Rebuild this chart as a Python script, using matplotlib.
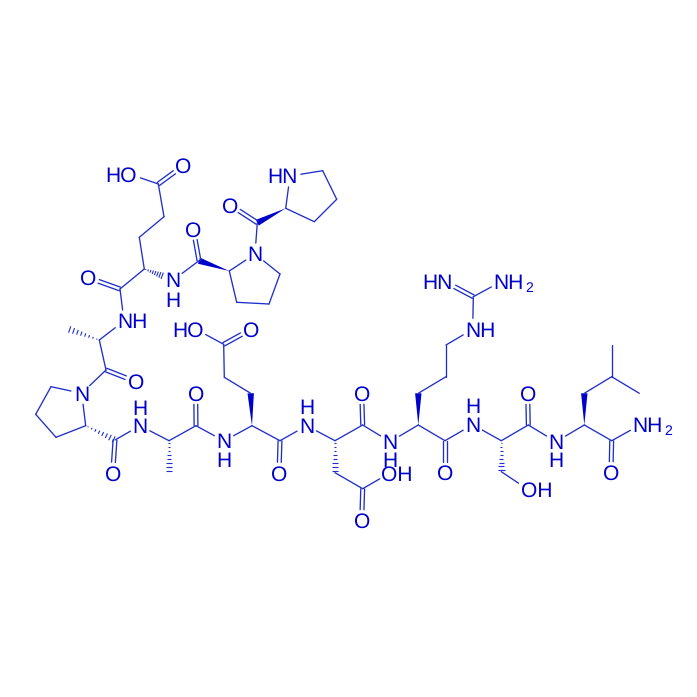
import matplotlib
matplotlib.use("Agg")
import matplotlib.pyplot as plt
from matplotlib.patches import Polygon
import numpy as np

plt.rcParams['font.family'] = ['Liberation Sans', 'DejaVu Sans']
plt.rcParams['text.hinting'] = 'none'
plt.rcParams['text.hinting_factor'] = 1

COL_TEXT = '#0000CD'
COL_LINE = '#1F2FCB'

atom_ids = ['O1h', 'C1', 'O1', 'C2', 'C3', 'C4', 'C5', 'O5',
            'N6', 'C7', 'M7', 'C8', 'O8',
            'N9', 'C10', 'C11', 'C12', 'C13', 'C14', 'O14',
            'N15', 'C16', 'M16', 'C17', 'O17',
            'N18', 'C19', 'C20', 'C21', 'C22', 'O22', 'O22h', 'C23', 'O23',
            'N24', 'C25', 'C26', 'C27', 'O27', 'O27h', 'C28', 'O28',
            'N29', 'C30', 'C31', 'C32', 'C33', 'N33', 'C34', 'N35', 'N36', 'C37', 'O37',
            'N38', 'C39', 'C40', 'O40h', 'C41', 'O41',
            'N42', 'C43', 'C44', 'C45', 'M45a', 'M45b', 'C46', 'O46', 'N47',
            'C48', 'O48', 'N49', 'C50', 'N52', 'C53', 'C54', 'C55', 'C56', 'O56',
            'C57', 'N58', 'C59', 'C60', 'C61']
atom_x = [130, 158.3, 183.3, 164, 139.3, 144.3, 120, 88.3,
          124, 99.3, 68.3, 106, 136,
          81.7, 51, 35.7, 56, 85.7, 115, 112.7,
          140, 169, 169, 196, 195.7,
          224, 252, 250.7, 224.3, 223.7, 251, 196, 280, 279,
          306.7, 335, 335, 362.7, 361.7, 389.3, 362.7, 361.7,
          390, 418.3, 418.3, 446, 446, 472.7, 473.3, 445, 501, 445, 445,
          472.7, 501.3, 501.3, 527.7, 528.3, 527.7,
          556, 584.3, 584.3, 611.7, 611.7, 639.3, 611.7, 611, 640,
          199, 193.3, 173.3, 229.3, 255, 280, 269, 236.7, 257.3, 230,
          285.7, 290, 322.7, 336.7, 314.3]
atom_y = [174.3, 184, 165.7, 216.7, 237.3, 269, 289, 277.7,
          321, 340, 329, 370, 381.7,
          393.3, 386.7, 414.3, 437.3, 425.7, 440, 473.3,
          425.7, 440.7, 472.7, 425.7, 393.3,
          441, 425.7, 393.3, 377.3, 344.3, 329.3, 329.3, 440.7, 473.3,
          425.7, 440.7, 472.7, 488.7, 520.7, 473.3, 425, 393.3,
          441.7, 425, 393.3, 376.7, 345, 329.3, 296.7, 281.7, 281.7, 440.7, 472.7,
          424.7, 440.7, 471.7, 489.3, 425, 393.3,
          441.7, 425, 393.3, 376.7, 345, 393.3, 440.7, 472.7, 425,
          260.7, 229, 280, 271, 254, 274, 304, 302.3, 222.7, 205,
          208.3, 176, 170.7, 199.3, 221.7]

single_bonds = [('O1h', 'C1'), ('C1', 'C2'), ('C2', 'C3'), ('C3', 'C4'), ('C4', 'C5'), ('C5', 'N6'),
                ('N6', 'C7'), ('C7', 'C8'), ('C8', 'N9'), ('N9', 'C10'), ('C10', 'C11'), ('C11', 'C12'),
                ('C12', 'C13'), ('C13', 'N9'), ('C14', 'N15'), ('N15', 'C16'), ('C16', 'C17'), ('C17', 'N18'),
                ('N18', 'C19'), ('C19', 'C23'), ('C20', 'C21'), ('C21', 'C22'), ('C22', 'O22h'), ('C23', 'N24'),
                ('N24', 'C25'), ('C25', 'C28'), ('C26', 'C27'), ('C27', 'O27h'), ('C28', 'N29'), ('N29', 'C30'),
                ('C30', 'C37'), ('C31', 'C32'), ('C32', 'C33'), ('C33', 'N33'), ('N33', 'C34'), ('C34', 'N36'),
                ('C37', 'N38'), ('N38', 'C39'), ('C39', 'C41'), ('C40', 'O40h'), ('C41', 'N42'), ('N42', 'C43'),
                ('C43', 'C46'), ('C44', 'C45'), ('C45', 'M45a'), ('C45', 'M45b'), ('C46', 'N47'), ('N49', 'C48'),
                ('C50', 'N52'), ('N52', 'C53'), ('C53', 'C54'), ('C54', 'C55'), ('C55', 'C50'), ('C56', 'N52'),
                ('N58', 'C59'), ('C59', 'C60'), ('C60', 'C61'), ('C61', 'C57'), ('C57', 'N58')]
double_bonds = [('C1', 'O1'), ('C5', 'O5'), ('C8', 'O8'), ('C14', 'O14'), ('C17', 'O17'), ('C22', 'O22'),
                ('C23', 'O23'), ('C27', 'O27'), ('C28', 'O28'), ('C34', 'N35'), ('C37', 'O37'), ('C41', 'O41'),
                ('C46', 'O46'), ('C48', 'O48'), ('C56', 'O56')]
# narrow end first, wide end last
wedge_bonds = [('C19', 'C20'), ('C30', 'C31'), ('C43', 'C44'), ('C50', 'C48'), ('C57', 'C56')]
hash_bonds = [('C4', 'N49'), ('C7', 'M7'), ('C13', 'C14'), ('C16', 'M16'), ('C25', 'C26'), ('C39', 'C40')]

label_str = ['HO', 'O', 'O', 'NH', 'O', 'N', 'O', 'N', 'H', 'O', 'N', 'H', 'HO', 'O', 'O', 'N', 'H',
             'O', 'OH', 'O', 'N', 'H', 'NH', 'HN', 'NH', 'O', 'N', 'H', 'OH', 'O', 'N', 'H', 'O', 'NH',
             'O', 'N', 'H', 'N', 'O', 'HN']
label_x = [120.7, 183.3, 88.3, 132, 136, 81.7, 112.7, 140, 140, 195.7, 224, 224, 188.3, 251, 279, 306.7, 306.7,
           361.7, 396.7, 361.7, 390, 390, 480.5, 437, 508.7, 445, 472.7, 472.7, 536.7, 527.7, 556, 556, 611, 647,
           193.3, 173.3, 173.3, 255, 230, 282.3]
label_y = [174.3, 165.7, 277.7, 321, 381.7, 393.3, 473.3, 425.7, 407.3, 393.3, 441, 460, 329.3, 329.3, 473.3, 425.7, 406.7,
           520.7, 473.3, 393.3, 441.7, 460, 329.3, 281.7, 281.7, 472.7, 424.7, 405.7, 489.3, 393.3, 441.7, 460, 472.7, 425,
           229, 280, 299.3, 254, 205, 176]
sub_str = ['2', '2']
sub_x = [529, 668]
sub_y = [288, 431.7]

FS = 15
GAP = 11
pos = {a: np.array([x, y]) for a, x, y in zip(atom_ids, atom_x, atom_y)}
hetero = {a for a in atom_ids if a[0] in 'NO'}

fig = plt.figure(figsize=(6.97, 6.97), dpi=100)
ax = fig.add_axes([0, 0, 1, 1])
ax.set_xlim(0, 697)
ax.set_ylim(697, 0)
ax.axis('off')
LW = 0.95


def ends(a, b):
    p, q = pos[a].copy(), pos[b].copy()
    d = (q - p) / np.linalg.norm(q - p)
    if a in hetero:
        p = p + d * GAP
    if b in hetero:
        q = q - d * GAP
    return p, q, d


for a, b in single_bonds:
    p, q, d = ends(a, b)
    ax.plot([p[0], q[0]], [p[1], q[1]], color=COL_LINE, lw=LW, solid_capstyle='round')

for a, b in double_bonds:
    p, q, d = ends(a, b)
    n = np.array([-d[1], d[0]]) * 1.9
    for s in (-1, 1):
        ax.plot([p[0] + s * n[0], q[0] + s * n[0]], [p[1] + s * n[1], q[1] + s * n[1]],
                color=COL_LINE, lw=LW, solid_capstyle='round')

for a, b in wedge_bonds:
    p, q = pos[a], pos[b]
    d = (q - p) / np.linalg.norm(q - p)
    n = np.array([-d[1], d[0]]) * 3.2
    ax.add_patch(Polygon([p, q + n, q - n], closed=True, fc=COL_TEXT, ec='none'))

for a, b in hash_bonds:
    p, q, d = ends(a, b)
    n = np.array([-d[1], d[0]])
    L = np.linalg.norm(q - p)
    for t in np.arange(0.08, 1.0, 0.125):
        c = p + d * L * t
        w = 3.2 * t + 0.3
        ax.plot([c[0] - n[0] * w, c[0] + n[0] * w], [c[1] - n[1] * w, c[1] + n[1] * w],
                color=COL_LINE, lw=0.8, solid_capstyle='butt')

for s, x, y in zip(label_str, label_x, label_y):
    ax.text(x, y + 7.4, s, ha='center', va='baseline', fontsize=FS, color=COL_TEXT)
for s, x, y in zip(sub_str, sub_x, sub_y):
    ax.text(x, y, s, ha='center', va='center', fontsize=FS * 0.68, color=COL_TEXT)

fig.savefig('out.png', dpi=100, facecolor='white')
